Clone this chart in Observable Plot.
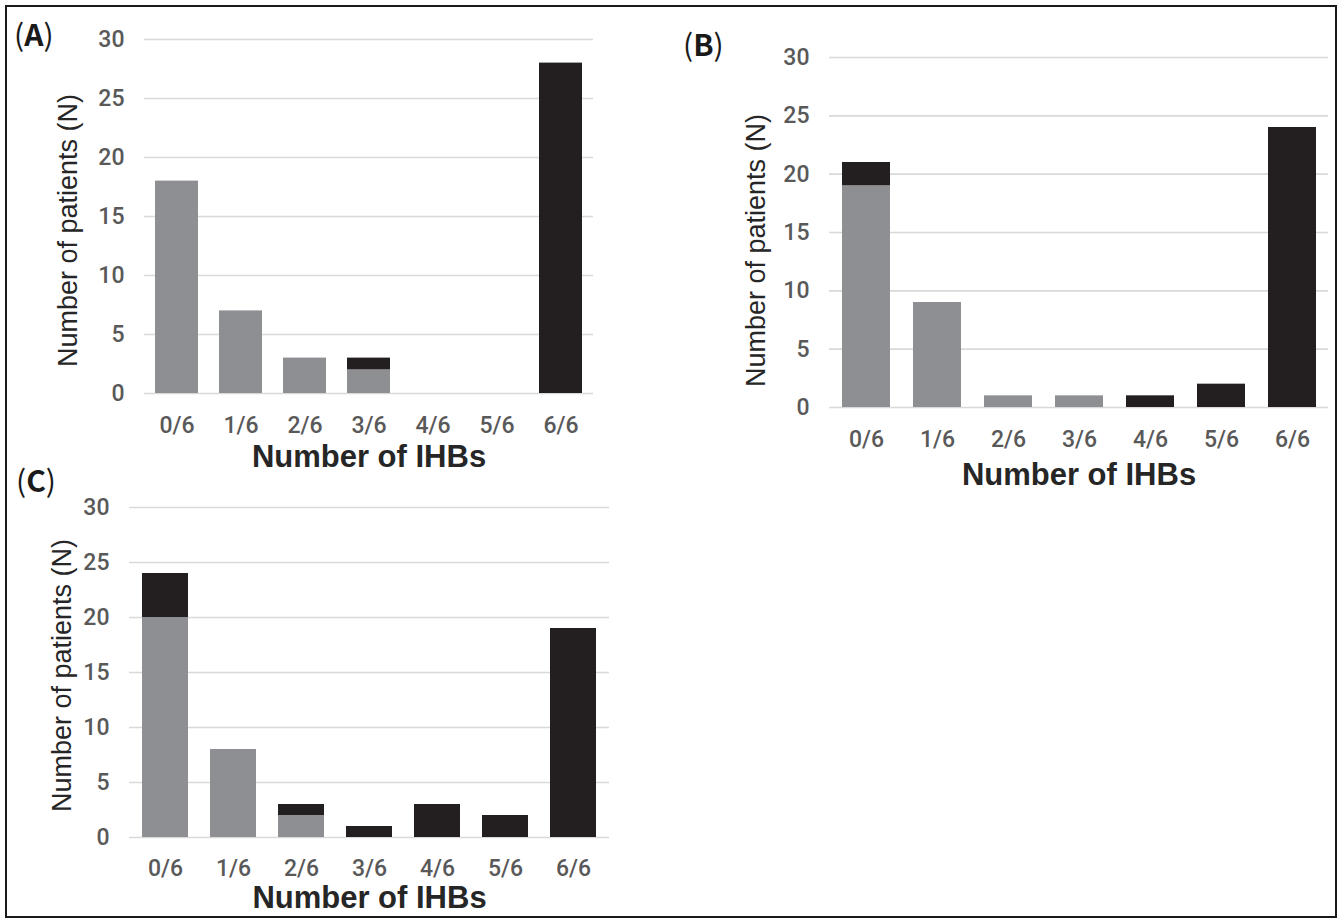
<!DOCTYPE html>
<html>
<head>
<meta charset="utf-8">
<script src="https://cdn.jsdelivr.net/npm/d3@7"></script>
<script src="https://cdn.jsdelivr.net/npm/@observablehq/plot@0.6"></script>
<style>
  html, body { margin: 0; padding: 0; background: #fff; }
  #fig { position: relative; width: 1339px; height: 919px; overflow: hidden; background: #fff; }
  .panel { position: absolute; }
  .plabel { position: absolute; font-family: "Noto Sans CJK JP", "Noto Sans", sans-serif; font-size: 30px; color: #1a1a1a; line-height: 1; }
  .plabel b { font-weight: 700; }
  #border { position: absolute; left: 5px; top: 5px; width: 1332px; height: 913px; box-sizing: border-box; border: 2.6px solid #1a1a1a; z-index: 10; pointer-events: none; }
</style>
</head>
<body>
<div id="fig"><div id="border"></div></div>
<script>
// ---- data ----
const categories = ["0/6", "1/6", "2/6", "3/6", "4/6", "5/6", "6/6"];
const grayA  = [18, 7, 3, 2, 0, 0, 0];
const blackA = [0, 0, 0, 1, 0, 0, 28];
const grayB  = [19, 9, 1, 1, 0, 0, 0];
const blackB = [2, 0, 0, 0, 1, 2, 24];
const grayC  = [20, 8, 2, 0, 0, 0, 0];
const blackC = [4, 0, 1, 1, 3, 2, 19];
const yTicks = [0, 5, 10, 15, 20, 25, 30];
const groups = ["series 1", "series 2"];
const panelNames = ["A", "B", "C"];
const xTitle = "Number of IHBs";
const yTitle = "Number of patients (N)";

function toLong(gray, black) {
  return categories.flatMap((c, i) => [
    {cat: c, group: groups[0], n: gray[i]},
    {cat: c, group: groups[1], n: black[i]}
  ]);
}

const layouts = [
  {gray: grayA, black: blackA, left: 0, top: 0, width: 620, height: 480,
   mL: 144, mR: 27, mT: 39, mB: 87, yDx: -76, yDy: 14, xDy: 64, xPad: 23,
   label: {left: 14, top: 18}},
  {gray: grayB, black: blackB, left: 680, top: 0, width: 659, height: 500,
   mL: 149, mR: 11, mT: 57, mB: 93, yDx: -73, yDy: 18, xDy: 68, xPad: 23,
   label: {left: 683, top: 28}},
  {gray: grayC, black: blackC, left: 0, top: 440, width: 640, height: 479,
   mL: 129, mR: 31, mT: 67, mB: 82, yDx: -67, yDy: 3, xDy: 61, xPad: 22,
   label: {left: 16, top: 464}}
];

const fig = document.getElementById("fig");

layouts.forEach((L, k) => {
  const data = toLong(L.gray, L.black);
  const chart = Plot.plot({
    width: L.width,
    height: L.height,
    marginLeft: L.mL,
    marginRight: L.mR,
    marginTop: L.mT,
    marginBottom: L.mB,
    style: {background: "transparent", overflow: "visible", fontFamily: "Roboto, sans-serif", color: "#595959"},
    x: {domain: categories, paddingInner: 0.33, paddingOuter: 0.165, label: null},
    y: {domain: [0, 30], label: null},
    color: {domain: groups, range: ["#8e8f93", "#231f20"]},
    marks: [
      Plot.gridY(yTicks, {stroke: "#d9d9d9", strokeOpacity: 1, strokeWidth: 1.6}),
      Plot.barY(data, {x: "cat", y: "n", fill: "group"}),
      Plot.axisX({tickSize: 0, tickPadding: L.xPad, fontSize: 23, fontWeight: 500, label: null}),
      Plot.axisY(yTicks, {tickSize: 0, tickPadding: 20, fontSize: 23, fontWeight: 500, label: null}),
      Plot.text([yTitle], {frameAnchor: "left", textAnchor: "middle", lineAnchor: "middle", rotate: -90,
        dx: L.yDx, dy: L.yDy, fontSize: 27, fill: "#262626", fontFamily: "Liberation Sans, Arial, sans-serif"}),
      Plot.text([xTitle], {frameAnchor: "bottom", textAnchor: "middle", lineAnchor: "middle",
        dy: L.xDy, fontSize: 31, fontWeight: "bold", fill: "#262626", fontFamily: "Liberation Sans, Arial, sans-serif"})
    ]
  });
  chart.classList.add("panel");
  chart.style.left = L.left + "px";
  chart.style.top = L.top + "px";
  fig.appendChild(chart);

  const lab = document.createElement("div");
  lab.className = "plabel";
  lab.style.left = L.label.left + "px";
  lab.style.top = L.label.top + "px";
  lab.innerHTML = "(<b>" + panelNames[k] + "</b>)";
  fig.appendChild(lab);
});
</script>
</body>
</html>
